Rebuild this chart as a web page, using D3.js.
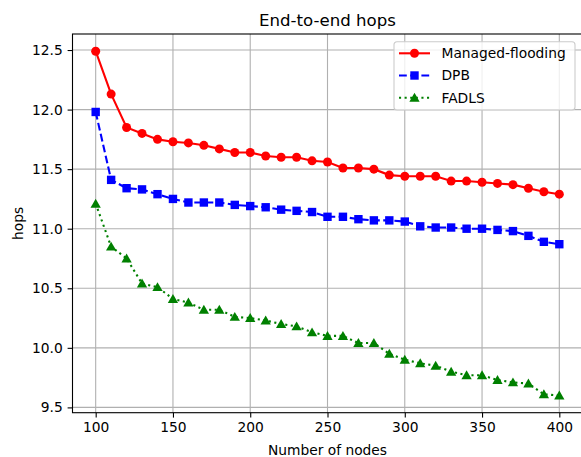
<!DOCTYPE html>
<html>
<head>
<meta charset="utf-8">
<script src="https://cdn.jsdelivr.net/npm/d3@7"></script>
<style>
  html, body { margin: 0; padding: 0; background: #fff; }
  svg { display: block; }
  text { font-family: "DejaVu Sans", sans-serif; fill: #000; }
</style>
</head>
<body>
<svg id="chart" width="581" height="457"></svg>
<script>
// Number of nodes in the network
const nodes = [100, 110, 120, 130, 140, 150, 160, 170, 180, 190, 200, 210, 220, 230, 240,
               250, 260, 270, 280, 290, 300, 310, 320, 330, 340, 350, 360, 370, 380, 390, 400];

// Average end-to-end hop count per protocol
const managedFlooding = [12.49, 12.13, 11.85, 11.80, 11.75, 11.73, 11.72, 11.70, 11.67, 11.64, 11.64,
                         11.61, 11.60, 11.60, 11.57, 11.56, 11.51, 11.51, 11.50, 11.45, 11.44,
                         11.44, 11.44, 11.40, 11.40, 11.39, 11.38, 11.37, 11.34, 11.31, 11.29];
const dpb = [11.98, 11.41, 11.34, 11.33, 11.29, 11.25, 11.22, 11.22, 11.22, 11.20, 11.19,
             11.18, 11.16, 11.15, 11.14, 11.10, 11.10, 11.08, 11.07, 11.07, 11.06,
             11.02, 11.01, 11.01, 11.00, 11.00, 10.99, 10.98, 10.94, 10.89, 10.87];
const fadls = [11.21, 10.85, 10.75, 10.54, 10.51, 10.41, 10.38, 10.32, 10.32, 10.26, 10.25,
               10.23, 10.20, 10.18, 10.13, 10.10, 10.10, 10.04, 10.04, 9.95, 9.90,
               9.87, 9.85, 9.80, 9.77, 9.77, 9.73, 9.71, 9.70, 9.61, 9.60];

const xTicks = [100, 150, 200, 250, 300, 350, 400];
const yTicks = [9.5, 10.0, 10.5, 11.0, 11.5, 12.0, 12.5];

const seriesList = [
  { name: "Managed-flooding", values: managedFlooding, color: "#ff0000", dash: null, marker: "circle" },
  { name: "DPB", values: dpb, color: "#0000ff", dash: "7.8,3.4", marker: "square" },
  { name: "FADLS", values: fadls, color: "#008000", dash: "2.1,3.5", marker: "triangle" }
];

const svg = d3.select("#chart");
const plot = { left: 72.5, right: 582.5, top: 34, bottom: 412.7 };

// Data range padded by 5% on each side
const allY = managedFlooding.concat(dpb, fadls);
const yMin = d3.min(allY), yMax = d3.max(allY);
const yPad = (yMax - yMin) * 0.05;
const xMin = d3.min(nodes), xMax = d3.max(nodes);
const xPad = (xMax - xMin) * 0.05;

const x = d3.scaleLinear().domain([xMin - xPad, xMax + xPad]).range([plot.left, plot.right]);
const y = d3.scaleLinear().domain([yMin - yPad, yMax + yPad]).range([plot.bottom, plot.top]);

// Grid
const grid = svg.append("g");
grid.selectAll("line.gx").data(xTicks).join("line")
  .attr("x1", d => x(d)).attr("x2", d => x(d))
  .attr("y1", plot.top).attr("y2", plot.bottom)
  .attr("stroke", "#b0b0b0").attr("stroke-width", 1.1);
grid.selectAll("line.gy").data(yTicks).join("line")
  .attr("y1", d => y(d)).attr("y2", d => y(d))
  .attr("x1", plot.left).attr("x2", plot.right)
  .attr("stroke", "#b0b0b0").attr("stroke-width", 1.1);

// Series
const symbolFor = { circle: d3.symbolCircle, square: d3.symbolSquare, triangle: d3.symbolTriangle };
const sizeFor = { circle: Math.PI * 4.5 * 4.5, square: 8.4 * 8.4, triangle: 46 };

seriesList.forEach(s => {
  const pts = nodes.map((n, i) => [n, s.values[i]]);
  const line = d3.line().x(d => x(d[0])).y(d => y(d[1]));
  const g = svg.append("g");
  g.append("path").datum(pts)
    .attr("d", line)
    .attr("fill", "none")
    .attr("stroke", s.color)
    .attr("stroke-width", 2.1)
    .attr("stroke-dasharray", s.dash);
  const sym = d3.symbol().type(symbolFor[s.marker]).size(sizeFor[s.marker]);
  g.selectAll("path.m").data(pts).join("path")
    .attr("d", sym)
    .attr("transform", d => `translate(${x(d[0])},${y(d[1]) + (s.marker === "triangle" ? 1 : 0)})`)
    .attr("fill", s.color);
});

// Axes
const xAxis = d3.axisBottom(x).tickValues(xTicks).tickSize(4.9).tickPadding(4.9).tickFormat(d3.format("d"));
const yAxis = d3.axisLeft(y).tickValues(yTicks).tickSize(4.9).tickPadding(4.9).tickFormat(d3.format(".1f"));

const gx = svg.append("g").attr("transform", `translate(0,${plot.bottom})`).call(xAxis);
const gy = svg.append("g").attr("transform", `translate(${plot.left},0)`).call(yAxis);
[gx, gy].forEach(g => {
  g.select(".domain").remove();
  g.selectAll(".tick line").attr("stroke", "#000").attr("stroke-width", 1.1);
  g.selectAll(".tick text").attr("font-size", 13.8).attr("font-family", "DejaVu Sans").attr("fill", "#000");
});

// Frame
svg.append("rect")
  .attr("x", plot.left).attr("y", plot.top)
  .attr("width", plot.right - plot.left).attr("height", plot.bottom - plot.top)
  .attr("fill", "none").attr("stroke", "#000").attr("stroke-width", 1.1);

// Titles
const cx = (plot.left + plot.right) / 2;
svg.append("text").attr("x", cx).attr("y", 26).attr("text-anchor", "middle")
  .attr("font-size", 16.6).text("End-to-end hops");
svg.append("text").attr("x", cx).attr("y", 455).attr("text-anchor", "middle")
  .attr("font-size", 13.8).text("Number of nodes");
svg.append("text")
  .attr("transform", `translate(23,${(plot.top + plot.bottom) / 2}) rotate(-90)`)
  .attr("text-anchor", "middle").attr("font-size", 13.8).text("hops");

// Legend
const lg = svg.append("g").attr("transform", "translate(394,41.7)");
lg.append("rect").attr("width", 181).attr("height", 68.3).attr("rx", 3)
  .attr("fill", "#fff").attr("fill-opacity", 0.8)
  .attr("stroke", "#cccccc").attr("stroke-width", 1.1);
seriesList.forEach((s, i) => {
  const ry = 11.6 + i * 22.2;
  const row = lg.append("g").attr("transform", `translate(0,${ry})`);
  row.append("line").attr("x1", 5).attr("x2", 36).attr("y1", 0).attr("y2", 0)
    .attr("stroke", s.color).attr("stroke-width", 2.1).attr("stroke-dasharray", s.dash);
  row.append("path")
    .attr("d", d3.symbol().type(symbolFor[s.marker]).size(sizeFor[s.marker])())
    .attr("transform", `translate(20.5,${s.marker === "triangle" ? 1 : 0})`)
    .attr("fill", s.color);
  row.append("text").attr("x", 47.5).attr("y", 0).attr("dy", "0.35em")
    .attr("font-size", 13.8).text(s.name);
});
</script>
</body>
</html>
